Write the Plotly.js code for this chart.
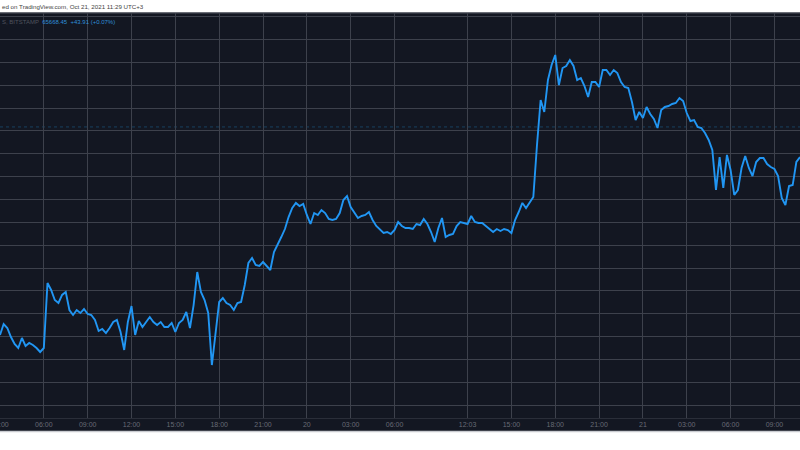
<!DOCTYPE html>
<html>
<head>
<meta charset="utf-8">
<script src="https://cdn.plot.ly/plotly-3.0.1.min.js"></script>
<style>
  html, body { margin: 0; padding: 0; background: #ffffff; }
  #chart { width: 800px; height: 450px; }
</style>
</head>
<body>
<div id="chart"></div>
<script>
// BTCUSD, Bitstamp, 15-minute bars (Oct 19 03:00 -> Oct 21 ~09:45, UTC+3)
const prices = [
  62028,62220,62150,61992,61870,61800,61975,61835,61888,61852,
  61800,61730,61800,62938,62815,62640,62588,62728,62780,62465,
  62378,62465,62412,62482,62395,62378,62290,62098,62132,62062,
  62150,62255,62290,62080,61765,62255,62535,62028,62272,62168,
  62255,62342,62255,62202,62255,62168,62168,62238,62080,62238,
  62290,62430,62150,62552,63130,62780,62640,62412,61502,62115,
  62605,62675,62588,62552,62465,62588,62605,62902,63288,63375,
  63252,63235,63305,63235,63165,63480,63602,63742,63882,64092,
  64250,64338,64285,64320,64128,63970,64162,64128,64215,64162,
  64058,64040,64058,64162,64390,64460,64268,64162,64075,64110,
  64128,64180,64040,63935,63882,63812,63830,63795,63865,64005,
  63935,63900,63900,63882,63970,63952,64058,63970,63830,63655,
  63900,64075,63742,63778,63795,63935,64005,63988,63970,64110,
  64005,63988,63988,63935,63882,63830,63882,63848,63882,63865,
  63812,64040,64180,64338,64250,64355,64442,65352,66140,65930,
  66490,66752,66928,66402,66700,66735,66840,66735,66490,66525,
  66385,66192,66455,66455,66368,66665,66665,66578,66665,66612,
  66455,66368,66350,66105,65790,65930,65825,66018,65895,65808,
  65650,65965,66018,66035,66070,66088,66175,66122,65912,65772,
  65790,65668,65650,65562,65440,65265,64565,65142,64600,65178,
  64915,64478,64565,64950,65160,64950,64810,65055,65125,65125,
  65020,64968,64932,64810,64425,64302,64635,64652,65055,65142
];
const tickLabels = ["03:00","06:00","09:00","12:00","15:00","18:00","21:00","20","03:00","06:00",
                    "12:03","15:00","18:00","21:00","21","03:00","06:00","09:00"];
const tickBars   = [0,12,24,36,48,60,72,84,96,108,128,140,152,164,176,188,200,212];
const symbolText = "S, BITSTAMP";
const lastPrice = 65668.45;
const change = 43.91;
const changePct = 0.07;
const publishedText = "ed on TradingView.com, Oct 21, 2021 11:29 UTC+3";

const bars = prices.map((_, i) => i);

const bg = '#131722';
const gridC = '#3d414c';

const trace = {
  x: bars, y: prices, type: 'scatter', mode: 'lines',
  line: { color: '#2196f3', width: 1.9 },
  hoverinfo: 'skip'
};

const layout = {
  width: 800, height: 450,
  margin: { l: 0, r: 0, t: 13, b: 32, pad: 0 },
  paper_bgcolor: '#ffffff',
  plot_bgcolor: bg,
  showlegend: false,
  font: { family: 'Liberation Sans, Arial, sans-serif' },
  xaxis: {
    range: [0, 219],
    tickmode: 'array', tickvals: tickBars, ticktext: tickLabels,
    showgrid: true, gridcolor: gridC, gridwidth: 1,
    zeroline: false, showline: true, linecolor: '#2a2e39', linewidth: 1,
    ticks: '', ticklen: 0,
    ticklabeloverflow: 'allow',
    tickfont: { size: 7, color: '#676a75' },
    fixedrange: true
  },
  yaxis: {
    range: [60575, 67662.5],
    tick0: 65600, dtick: 400,
    showgrid: true, gridcolor: gridC, gridwidth: 1,
    zeroline: false, showticklabels: false, showline: false,
    fixedrange: true
  },
  shapes: [
    { type: 'rect', xref: 'paper', yref: 'paper', x0: 0, x1: 1, y0: -0.0333, y1: 0,
      fillcolor: bg, line: { width: 0 }, layer: 'below' },
    { type: 'line', xref: 'paper', yref: 'paper', x0: 0, x1: 1, y0: -0.0336, y1: -0.0336,
      line: { color: '#c9cbd0', width: 1.5 } },
    { type: 'line', xref: 'paper', yref: 'paper', x0: 0, x1: 1, y0: 1.0, y1: 1.0,
      line: { color: '#3b3f4a', width: 1.5 } },
    { type: 'line', xref: 'paper', yref: 'y', x0: 0, x1: 1, y0: lastPrice, y1: lastPrice,
      line: { color: '#18405f', width: 1, dash: 'dot' }, layer: 'below' }
  ],
  annotations: [
    { xref: 'paper', yref: 'paper', x: 0, y: 1.016, xanchor: 'left', yanchor: 'middle',
      text: publishedText, showarrow: false, font: { size: 6.2, color: '#444444' } },
    { xref: 'paper', yref: 'paper', x: 0, y: 0.978, xanchor: 'left', yanchor: 'middle',
      text: symbolText + '  <span style="color:#2f8fd8">' + lastPrice.toFixed(2) + '  +' + change.toFixed(2) +
            ' (+' + changePct.toFixed(2) + '%)</span>',
      showarrow: false, font: { size: 6.0, color: '#4f535e' } }
  ]
};

Plotly.newPlot('chart', [trace], layout, { displayModeBar: false, staticPlot: true });
</script>
</body>
</html>
